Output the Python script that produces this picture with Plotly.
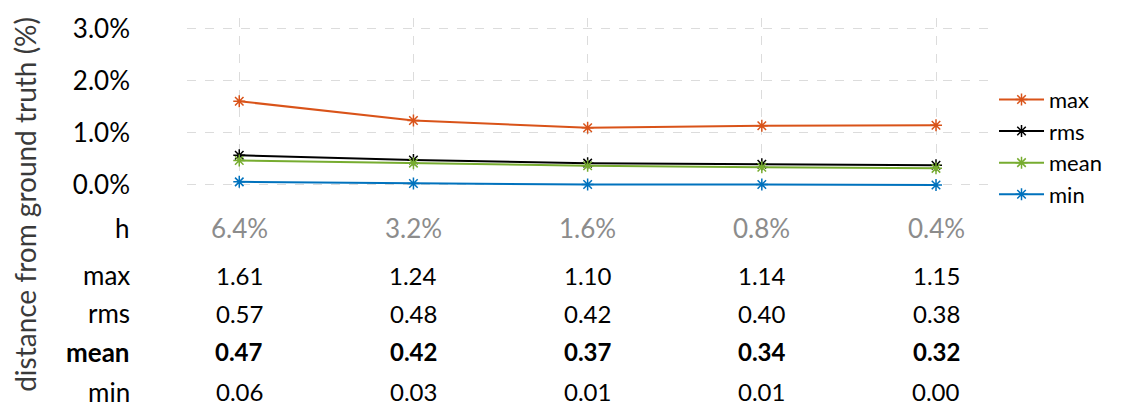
import plotly.graph_objects as go

# Step sizes h and the error statistics (in % of ground truth) at each step
h_labels = ["6.4%", "3.2%", "1.6%", "0.8%", "0.4%"]
series_names = ["max", "rms", "mean", "min"]
max_vals = [1.61, 1.24, 1.10, 1.14, 1.15]
rms_vals = [0.57, 0.48, 0.42, 0.40, 0.38]
mean_vals = [0.47, 0.42, 0.37, 0.34, 0.32]
min_vals = [0.06, 0.03, 0.01, 0.01, 0.00]
y_ticks = [0, 1, 2, 3]
y_tick_labels = ["0.0%", "1.0%", "2.0%", "3.0%"]

series_values = [max_vals, rms_vals, mean_vals, min_vals]
colors = ["#D95319", "#000000", "#77AC30", "#0072BD"]

FONT = "Lato"
W, H = 1128, 413
L, R, T, B = 187, 138, 14, 215
plot_h = H - T - B

x_idx = list(range(len(h_labels)))

fig = go.Figure()
for name, vals, col in zip(series_names, series_values, colors):
    fig.add_trace(go.Scatter(
        x=x_idx, y=vals, name=name, mode="lines+markers",
        line=dict(color=col, width=2),
        marker=dict(symbol="asterisk-open", size=10, color=col,
                    line=dict(color=col, width=1.5)),
        cliponaxis=False,
    ))


def row_y(px):
    """Convert a pixel row (from top of the page) into paper coordinates."""
    return (H - B - px) / plot_h


annotations = []

# Table below the plot: one row per statistic, one column per step size
rows = [("h", None, 229, False), ("max", max_vals, 277, False),
        ("rms", rms_vals, 316, False), ("mean", mean_vals, 355, True),
        ("min", min_vals, 396, False)]
for label, vals, py, bold in rows:
    txt = f"<b>{label}</b>" if bold else label
    annotations.append(dict(
        x=(132 - L) / (W - L - R), xref="paper", y=row_y(py), yref="paper",
        text=txt, showarrow=False, xanchor="right", yanchor="middle",
        font=dict(family=FONT, size=26, color="#000000")))
    if vals is None:
        for i, hl in enumerate(h_labels):
            annotations.append(dict(
                x=i, xref="x", y=row_y(py), yref="paper", text=hl,
                showarrow=False, xanchor="center", yanchor="middle",
                font=dict(family=FONT, size=26, color="#8c8c8c")))
    else:
        for i, v in enumerate(vals):
            t = f"{v:.2f}"
            if bold:
                t = f"<b>{t}</b>"
            annotations.append(dict(
                x=i, xref="x", y=row_y(py), yref="paper", text=t,
                showarrow=False, xanchor="center", yanchor="middle",
                font=dict(family=FONT, size=24, color="#000000")))

# Vertical axis title
annotations.append(dict(
    x=(25 - L) / (W - L - R), xref="paper", y=row_y(205), yref="paper",
    text="distance from ground truth (%)", textangle=-90, showarrow=False,
    xanchor="center", yanchor="middle",
    font=dict(family=FONT, size=28, color="#3a3a3a")))

grid = dict(showgrid=True, gridcolor="#dcdcdc", griddash="dash", gridwidth=1.2,
            zeroline=False, showline=False)

fig.update_layout(
    width=W, height=H,
    margin=dict(l=L, r=R, t=T, b=B, pad=0),
    paper_bgcolor="white", plot_bgcolor="white",
    font=dict(family=FONT, color="#000000"),
    xaxis=dict(range=[-0.3, 4.31], tickvals=x_idx, showticklabels=False,
               ticks="", **grid),
    yaxis=dict(range=[-0.25, 3.21], tickvals=y_ticks, ticktext=y_tick_labels,
               ticks="", ticklabelstandoff=56,
               tickfont=dict(family=FONT, size=26, color="#000000"), **grid),
    legend=dict(x=1.005, xanchor="left", y=row_y(76), yanchor="top",
                font=dict(family=FONT, size=22, color="#000000"),
                bgcolor="rgba(0,0,0,0)", itemwidth=45, tracegroupgap=0),
    annotations=annotations,
    showlegend=True,
)

fig.write_html("out.html")
